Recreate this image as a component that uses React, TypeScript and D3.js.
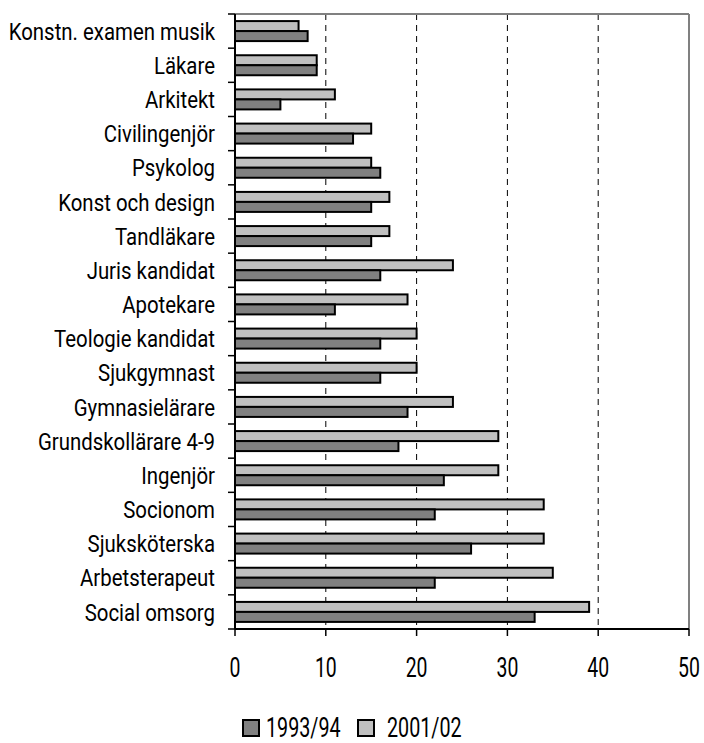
import React from "react";
import * as d3 from "d3";

const categories = [
  "Konstn. examen musik", "Läkare", "Arkitekt", "Civilingenjör", "Psykolog",
  "Konst och design", "Tandläkare", "Juris kandidat", "Apotekare",
  "Teologie kandidat", "Sjukgymnast", "Gymnasielärare", "Grundskollärare 4-9",
  "Ingenjör", "Socionom", "Sjuksköterska", "Arbetsterapeut", "Social omsorg",
];
const values1993 = [8, 9, 5, 13, 16, 15, 15, 16, 11, 16, 16, 19, 18, 23, 22, 26, 22, 33];
const values2001 = [7, 9, 11, 15, 15, 17, 17, 24, 19, 20, 20, 24, 29, 29, 34, 34, 35, 39];
const xTicks = [0, 10, 20, 30, 40, 50];
const seriesNames = ["1993/94", "2001/02"];

const FONT = "Roboto, 'Liberation Sans', sans-serif";

function NarrowText({ x, y, children, size, sx, anchor = "start" }: any) {
  return (
    <g transform={`translate(${x},${y}) scale(${sx},1)`}>
      <text x={0} y={0} dy="0.36em" textAnchor={anchor} fontFamily={FONT} fontSize={size} fill="#000">{children}</text>
    </g>
  );
}

export default function App() {
  const W = 704, H = 743;
  const left = 235, right = 689, top = 14, bottom = 629;
  const x = d3.scaleLinear().domain([0, 50]).range([left, right]);
  const y = d3.scaleBand().domain(categories).range([top, bottom]).paddingInner(0).paddingOuter(0);
  const bw = y.bandwidth();
  const barH = 10;
  const off = (bw - 2 * barH) / 2;
  const dark = "#808080", light = "#c0c0c0";

  return (
    <svg width={W} height={H} style={{ position: "absolute", left: 0, top: 0, background: "#fff" }}>
      {xTicks.slice(1, -1).map((t) => (
        <line key={t} x1={x(t)} x2={x(t)} y1={top} y2={bottom} stroke="#000" strokeWidth={1} strokeDasharray="6,5" />
      ))}
      <line x1={left} x2={right} y1={top} y2={top} stroke="#808080" strokeWidth={2} />
      <line x1={right} x2={right} y1={top} y2={bottom} stroke="#808080" strokeWidth={2} />
      {categories.map((c, i) => (
        <g key={c}>
          <rect x={x(0)} y={y(c)! + off} width={x(values2001[i]) - x(0)} height={barH}
            fill={light} stroke="#000" strokeWidth={2} />
          <rect x={x(0)} y={y(c)! + off + barH} width={x(values1993[i]) - x(0)} height={barH}
            fill={dark} stroke="#000" strokeWidth={2} />
        </g>
      ))}
      <line x1={left} x2={left} y1={top} y2={bottom} stroke="#000" strokeWidth={2} />
      {d3.range(categories.length + 1).map((i) => (
        <line key={i} x1={left - 7} x2={left} y1={top + i * bw} y2={top + i * bw} stroke="#000" strokeWidth={1.5} />
      ))}
      {categories.map((c) => (
        <NarrowText key={c} x={215} y={y(c)! + bw / 2} size={24} sx={0.85} anchor="end">{c}</NarrowText>
      ))}
      <line x1={left} x2={right} y1={bottom} y2={bottom} stroke="#000" strokeWidth={2} />
      {xTicks.map((t) => (
        <g key={t}>
          <line x1={x(t)} x2={x(t)} y1={bottom} y2={bottom + 7} stroke="#000" strokeWidth={1.5} />
          <NarrowText x={x(t)} y={667.5} size={27} sx={0.72} anchor="middle">{t}</NarrowText>
        </g>
      ))}
      <rect x={243} y={720} width={16} height={16} fill={dark} stroke="#000" strokeWidth={2} />
      <NarrowText x={266} y={727} size={27} sx={0.73}>{seriesNames[0]}</NarrowText>
      <rect x={358} y={720} width={16} height={16} fill={light} stroke="#000" strokeWidth={2} />
      <NarrowText x={387} y={727} size={27} sx={0.73}>{seriesNames[1]}</NarrowText>
    </svg>
  );
}
